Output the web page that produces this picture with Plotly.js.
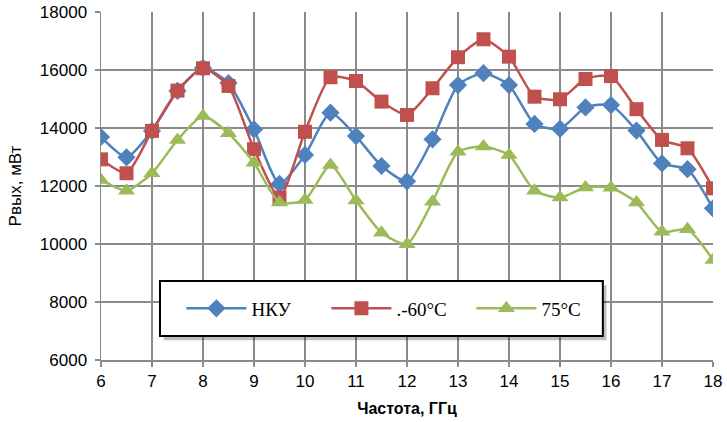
<!DOCTYPE html>
<html>
<head>
<meta charset="utf-8">
<script src="https://cdn.plot.ly/plotly-3.0.1.min.js"></script>
<style>html,body{margin:0;padding:0;background:#fff}#chart{width:727px;height:422px}</style>
</head>
<body>
<div id="chart"></div>
<script>
const freq = [6,6.5,7,7.5,8,8.5,9,9.5,10,10.5,11,11.5,12,12.5,13,13.5,14,14.5,15,15.5,16,16.5,17,17.5,18];
const nku = [13690,12990,13900,15280,16070,15550,13950,12070,13070,14530,13720,12690,12160,13610,15480,15890,15480,14140,13970,14710,14790,13910,12780,12580,11230];
const m60 = [12920,12440,13900,15290,16060,15450,13270,11600,13870,15750,15620,14910,14450,15370,16440,17060,16460,15080,14990,15690,15790,14650,13590,13300,11920];
const p75 = [12210,11840,12440,13590,14410,13820,12800,11430,11520,12720,11500,10390,9990,11460,13180,13360,13070,11840,11600,11950,11940,11430,10420,10510,9450];
const names = ['НКУ', '.-60°C', '75°C'];
const xTicks = [6,7,8,9,10,11,12,13,14,15,16,17,18];
const yTicks = [6000,8000,10000,12000,14000,16000,18000];

const colors = ['#4F81BD', '#C0504D', '#9BBB59'];
const symbols = ['diamond', 'square', 'triangle-up'];
const sizes = [14, 14, 15];
const series = [nku, m60, p75];

const traces = series.map((ys, i) => ({
  x: freq, y: ys, name: names[i], type: 'scatter', mode: 'lines+markers',
  line: {color: colors[i], width: 2.5, shape: 'spline', smoothing: 0.6},
  marker: {color: colors[i], symbol: symbols[i], size: sizes[i], line: {width: 0}}
}));

// legend frame (paper coords, relative to plot area)
const lx0 = 0.0964, lx1 = 0.820, ly0 = 0.069, ly1 = 0.227;
const shadowDx = 0.006, shadowDy = 0.012;

const layout = {
  width: 727, height: 422,
  margin: {l: 101, r: 14, t: 12, b: 62},
  paper_bgcolor: '#fff', plot_bgcolor: '#fff',
  font: {family: 'Liberation Sans, Arial, sans-serif', color: '#000'},
  showlegend: true,
  legend: {
    x: lx0 + 0.035, y: (ly0 + ly1) / 2, xanchor: 'left', yanchor: 'middle',
    orientation: 'h', bgcolor: 'rgba(0,0,0,0)', borderwidth: 0,
    font: {family: 'Liberation Serif, Times New Roman, serif', size: 19, color: '#000'},
    entrywidth: 70, itemwidth: 60
  },
  shapes: [
    {type: 'rect', xref: 'paper', yref: 'paper', layer: 'above',
     x0: lx0 + shadowDx, x1: lx1 + shadowDx, y0: ly0 - shadowDy, y1: ly1 - shadowDy,
     fillcolor: 'rgba(0,0,0,0.25)', line: {width: 0}},
    {type: 'rect', xref: 'paper', yref: 'paper', layer: 'above',
     x0: lx0, x1: lx1, y0: ly0, y1: ly1,
     fillcolor: '#fff', line: {color: '#000', width: 2}}
  ],
  xaxis: {
    range: [6, 18], tickvals: xTicks, ticktext: xTicks.map(String),
    showgrid: true, gridcolor: '#8a8a8a', gridwidth: 1.5,
    showline: true, linecolor: '#8a8a8a', linewidth: 1.5,
    ticks: 'outside', ticklen: 5, tickcolor: '#8a8a8a', tickwidth: 1.5,
    tickfont: {size: 17, color: '#000'}, zeroline: false,
    title: {text: '<b>Частота, ГГц</b>', font: {size: 16, color: '#000'}, standoff: 13}
  },
  yaxis: {
    range: [6000, 18000], tickvals: yTicks, ticktext: yTicks.map(String),
    showgrid: true, gridcolor: '#8a8a8a', gridwidth: 1.5,
    showline: true, linecolor: '#8a8a8a', linewidth: 1.5,
    ticks: 'outside', ticklen: 5, tickcolor: '#8a8a8a', tickwidth: 1.5,
    tickfont: {size: 17, color: '#000'}, zeroline: false, ticklabelstandoff: 4,
    title: {text: 'Рвых, мВт', font: {size: 17, color: '#000'}, standoff: 14}
  }
};

Plotly.newPlot('chart', traces, layout, {displayModeBar: false, staticPlot: true});
</script>
</body>
</html>
